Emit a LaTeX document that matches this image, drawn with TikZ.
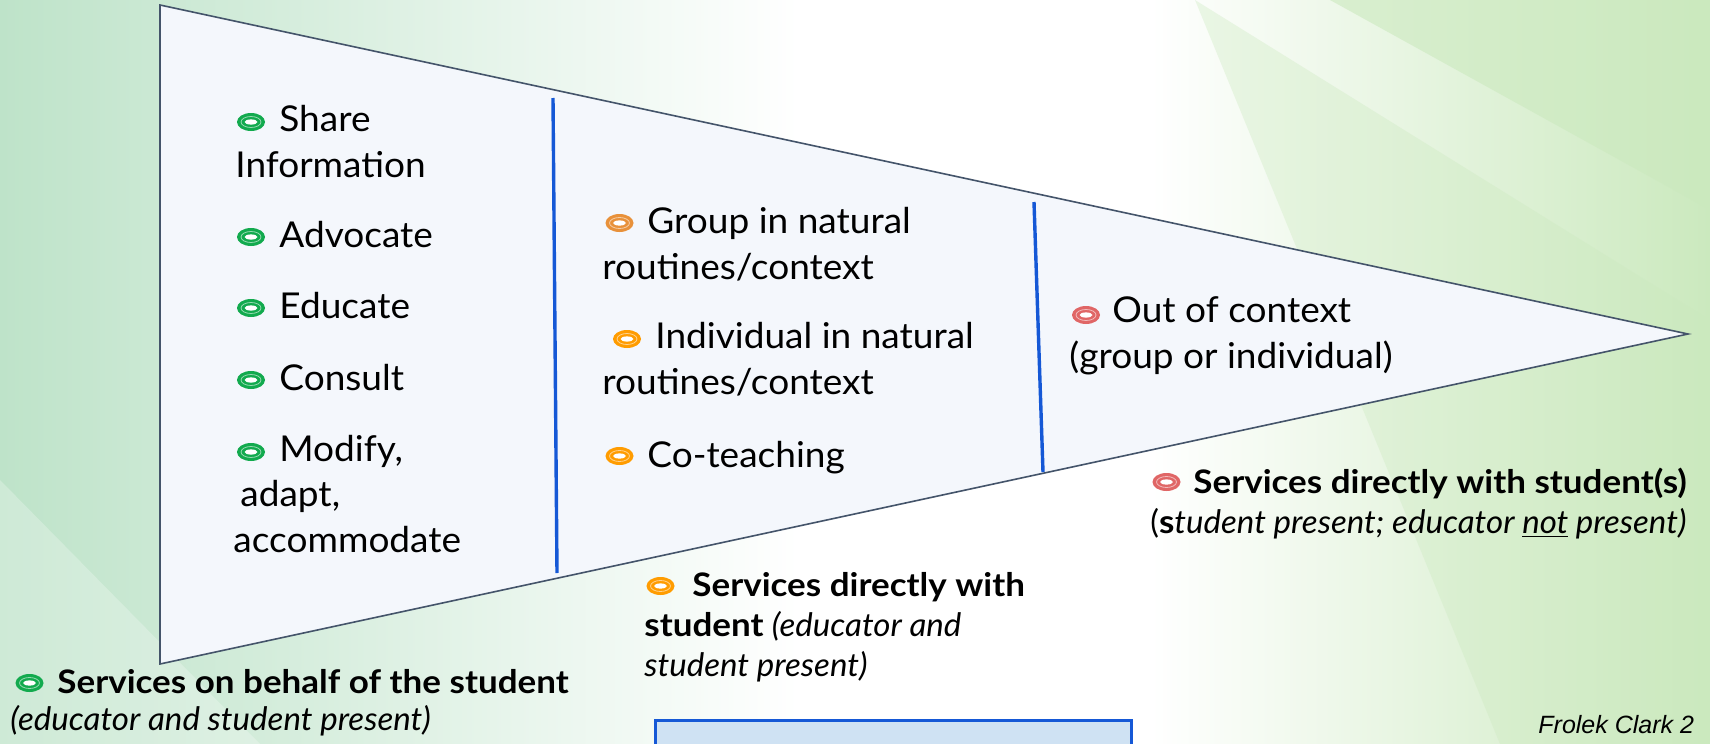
\documentclass[tikz,border=0pt]{standalone}
\usepackage{fontspec}
\setmainfont{Lato}[FakeStretch=1.04]
\newfontfamily\lblfont{Lato}[BoldFeatures={FakeStretch=1.08}, ItalicFeatures={FakeStretch=1.02}]
\newfontfamily\credfont{Liberation Sans}
\definecolor{bgL}{HTML}{BEE3C9}
\definecolor{bgR}{HTML}{CBE9BE}
\definecolor{triFill}{HTML}{F4F7FC}
\definecolor{triLine}{HTML}{44546A}
\definecolor{divBlue}{HTML}{1558D6}
\definecolor{boxFill}{HTML}{CFE2F3}
\definecolor{bulG}{HTML}{12AA4E}
\definecolor{bulO}{HTML}{E8913A}
\definecolor{bulY}{HTML}{FF9C00}
\definecolor{bulR}{HTML}{E06666}
\newcommand{\ringbul}[2]{%
  \fill[#2] (#1) ellipse (14 and 9);
  \draw[white, opacity=.55, line width=.4pt] (#1) ellipse (10 and 5.5);
  \fill[white] (#1) ellipse (6.5 and 2.6);
}
\begin{document}
\begin{tikzpicture}[x=0.5pt, y=-0.5pt]
    \tikzset{item/.style={anchor=base west, inner sep=0, align=left, font=\fontsize{17.8}{22.75}\selectfont},
             lbl/.style={anchor=base west, inner sep=0, align=left, font=\lblfont\fontsize{16.2}{18.5}\selectfont},
             divider/.style={divBlue, line width=1.7pt}}
    \useasboundingbox (0,0) rectangle (1710,744);
    % background
    \shade[left color=bgL, right color=white] (0,0) rectangle (800,744);
    \fill[white] (800,0) rectangle (1150,744);
    \shade[left color=white, right color=bgR] (1150,0) rectangle (1710,744);
    \fill[bgR, opacity=.6] (1330,0) -- (1710,0) -- (1710,210) -- cycle;
    \fill[bgR, opacity=.35] (1195,0) -- (1710,320) -- (1710,744) -- (1500,744) -- cycle;
    \fill[white, opacity=.25] (0,480) -- (260,744) -- (0,744) -- cycle;
    \coordinate (TL) at (160,5);
    \coordinate (T) at (1688,334);
    \coordinate (BL) at (160,664);
    \coordinate (D1t) at (553,98);
    \coordinate (D1b) at (557,573);
    \coordinate (D2t) at (1034,202);
    \coordinate (D2b) at (1043,472);
    \filldraw[fill=triFill, draw=triLine, line width=0.8pt] (TL) -- (T) -- (BL) -- cycle;
    \draw[divider] (D1t) -- (D1b);
    \draw[divider] (D2t) -- (D2b);
    \filldraw[fill=boxFill, draw=divBlue, line width=1.5pt] (655,720) rectangle (1131,760);
    % left column
    \node[item] (share) at (235,177) {\hspace*{22pt}Share\\Information};
    \node[item] (advocate) at (279,247) {Advocate};
    \node[item] (educate) at (279,318) {Educate};
    \node[item] (consult) at (279,390) {Consult};
    \node[item] (modify) at (233,552) {\hspace*{23pt}Modify,\\\hspace*{3.5pt}adapt,\\accommodate};
    \ringbul{251,122}{bulG}
    \ringbul{251,237}{bulG}
    \ringbul{251,308}{bulG}
    \ringbul{251,380}{bulG}
    \ringbul{251,452}{bulG}
    % middle column
    \node[item] (group) at (602,279) {\hspace*{22.5pt}Group in natural\\routines/context};
    \node[item] (indiv) at (602,394) {\hspace*{26.5pt}Individual in natural\\routines/context};
    \node[item] (coteach) at (647,467) {Co-teaching};
    \ringbul{619.5,223}{bulO}
    \ringbul{627,339}{bulY}
    \ringbul{619.5,456}{bulY}
    % right column
    \node[item] (outctx) at (1069,368) {\hspace*{21.5pt}Out of context\\(group or individual)};
    \ringbul{1086,315}{bulR}
    % labels
    \node[lbl] (behalf) at (10,730) {\hspace*{23.5pt}\textbf{Services on behalf of the student}\\\textit{(educator and student present)}};
    \ringbul{29.5,683}{bulG}
    \node[lbl, font=\lblfont\fontsize{16.2}{20}\selectfont] (direct) at (644,676) {\hspace*{24pt}\textbf{Services directly with}\\\textbf{student} \textit{(educator and}\\\textit{student present)}};
    \ringbul{660.5,586}{bulY}
    \node[lbl, font=\lblfont\fontsize{16.2}{20}\selectfont] (directs) at (1150,533) {\hspace*{21.5pt}\textbf{Services directly with student(s)}\\(\textbf{s}\textit{tudent present; educator \underline{not} present)}};
    \ringbul{1166.5,482}{bulR}
    \node[anchor=base west, inner sep=0, font=\credfont\itshape\fontsize{12.5}{15}\selectfont] (credit) at (1538,733) {Frolek Clark 2};
\end{tikzpicture}
\end{document}
